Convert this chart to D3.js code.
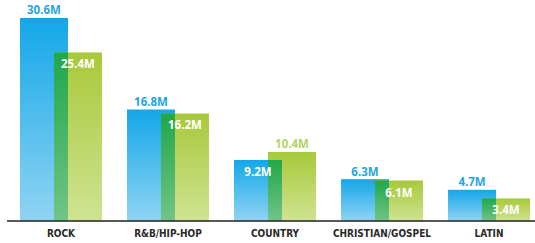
<!DOCTYPE html>
<html><head><meta charset="utf-8">
<script src="https://cdn.jsdelivr.net/npm/d3@7"></script>
<style>body{margin:0;background:#fff}svg{display:block}</style>
</head><body>
<svg id="c" width="535" height="243"></svg>
<script>
const categories = ["ROCK","R&B/HIP-HOP","COUNTRY","CHRISTIAN/GOSPEL","LATIN"];
const blueValues = [30.6,16.8,9.2,6.3,4.7];
const greenValues = [25.4,16.2,10.4,6.1,3.4];
const blueLabels = ["30.6M","16.8M","9.2M","6.3M","4.7M"];
const greenLabels = ["25.4M","16.2M","10.4M","6.1M","3.4M"];

const svg = d3.select("#c");
const baseY = 221;
const x = d3.scaleBand().domain(categories).range([20,530]).paddingInner(0.234).paddingOuter(0);
const y = d3.scaleLinear().domain([0,33.3]).range([baseY,0]);
const bw = x.bandwidth()*48/82, gOff = x.bandwidth()*34/82;

const defs = svg.append("defs");
function grad(id, top, bot){
  const g = defs.append("linearGradient").attr("id",id).attr("x1",0).attr("y1",0).attr("x2",0).attr("y2",1);
  g.append("stop").attr("offset","0%").attr("stop-color",top);
  g.append("stop").attr("offset","100%").attr("stop-color",bot);
}
grad("gb","#13a7e8","#90d4f3");
grad("gg","#a8c93a","#d0e392");
grad("go","#1fa84a","#72c486");

const data = categories.map((c,i)=>({c,b:blueValues[i],g:greenValues[i],bl:blueLabels[i],gl:greenLabels[i]}));

const grp = svg.selectAll("g.grp").data(data).join("g").attr("class","grp");
grp.append("rect").attr("x",d=>x(d.c)).attr("y",d=>y(d.b)).attr("width",bw).attr("height",d=>baseY-y(d.b)).attr("fill","url(#gb)");
grp.append("rect").attr("x",d=>x(d.c)+gOff).attr("y",d=>y(d.g)).attr("width",bw).attr("height",d=>baseY-y(d.g)).attr("fill","url(#gg)");
grp.append("rect").attr("x",d=>x(d.c)+gOff).attr("y",d=>y(Math.min(d.b,d.g))).attr("width",bw-gOff).attr("height",d=>baseY-y(Math.min(d.b,d.g))).attr("fill","url(#go)");

const vf = "'Open Sans', 'DejaVu Sans', sans-serif";
function lab(sel, key, lk, off, colAbove){
  sel.append("text")
    .attr("x",d=>x(d.c)+off+bw/2)
    .attr("y",d=>{const other = key==="b"?d.g:d.b; return d[key]>=other ? y(d[key])-3.5 : y(d[key])+16;})
    .attr("text-anchor","middle")
    .attr("font-family",vf).attr("font-weight",700).attr("font-size",11.5)
    .attr("fill",d=>{const other = key==="b"?d.g:d.b; return d[key]>=other ? colAbove : "#ffffff";})
    .text(d=>d[lk]);
}
lab(grp,"b","bl",0,"#25a6e2");
lab(grp,"g","gl",gOff,"#b3d266");

svg.append("line").attr("x1",7).attr("x2",535).attr("y1",baseY).attr("y2",baseY).attr("stroke","#222").attr("stroke-width",1.6);

svg.selectAll("text.cat").data(categories).join("text").attr("class","cat")
  .attr("x",d=>x(d)+x.bandwidth()/2).attr("y",237)
  .attr("text-anchor","middle")
  .attr("font-family","'Liberation Sans Narrow','DejaVu Sans Condensed',sans-serif")
  .attr("font-stretch","condensed")
  .attr("font-weight",700).attr("font-size",10).attr("fill","#2a2a2a")
  .text(d=>d);
</script>
</body></html>
